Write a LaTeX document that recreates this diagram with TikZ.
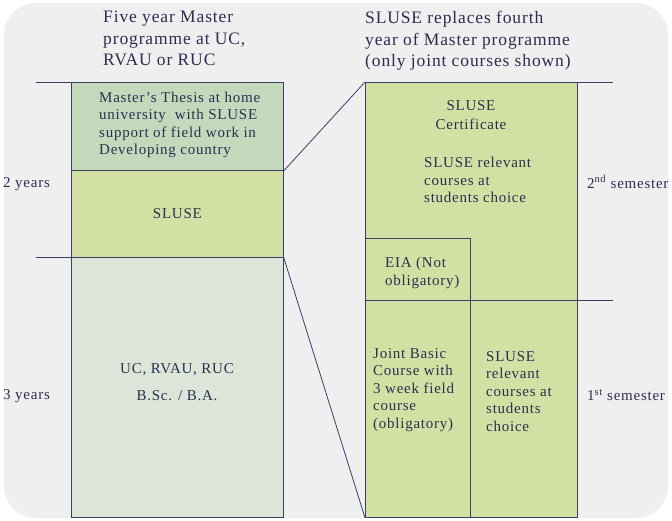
\documentclass[tikz,border=0pt]{standalone}
\usepackage{fontspec}
\setmainfont{Liberation Serif}[LetterSpace=5]
\definecolor{bgc}{HTML}{EFEFEF}
\definecolor{thesisc}{HTML}{C4D9BC}
\definecolor{slusec}{HTML}{D3E0A3}
\definecolor{bscc}{HTML}{DCE5D7}
\definecolor{ink}{HTML}{2A2F4F}
\definecolor{linec}{HTML}{3A3F66}
\begin{document}
\begin{tikzpicture}[x=1pt,y=-1pt,
  box/.style={draw=linec, line width=0.8pt, anchor=north west, inner sep=0pt},
  conn/.style={draw=linec, line width=0.8pt},
  txt/.style={text=ink, font=\fontsize{15}{17.6}\selectfont, inner sep=0pt},
  ttl/.style={text=ink, font=\fontsize{17.5}{21.5}\selectfont, inner sep=0pt, align=left, anchor=north west}]
\useasboundingbox (0,0) rectangle (672,520);
\fill[white] (0,0) rectangle (672,520);
\fill[bgc, rounded corners=32pt] (4,3) rectangle (668,518);

% titles
\node[ttl] (t1) at (103,11) {Five year Master\\programme at UC,\\RVAU or RUC};
\node[ttl] (t2) at (365,11) {SLUSE replaces fourth\\year of Master programme\\(only joint courses shown)};

% left column
\node[box, fill=thesisc, minimum width=212pt, minimum height=88pt] (thesis) at (71,82) {};
\node[box, fill=slusec, minimum width=212pt, minimum height=87pt] (sluse) at (71,170) {};
\node[box, fill=bscc, minimum width=212pt, minimum height=260pt] (bsc) at (71,257) {};

\node[txt, align=left, anchor=north west] (thesist) at (99,91.5) {Master’s Thesis at home\\university\ \ with SLUSE\\support of field work in\\Developing country};
\node[txt] (slusetxt) at (sluse.center) {SLUSE};
\node[txt, align=center] (bsct) at (177,382) {UC, RVAU, RUC\\[9.5pt]B.Sc. / B.A.};

% right column
\node[box, fill=slusec, minimum width=212pt, minimum height=218pt] (sem2) at (365,82) {};
\node[box, fill=slusec, minimum width=105pt, minimum height=62pt] (eia) at (365,238) {};
\node[box, fill=slusec, minimum width=105pt, minimum height=217pt] (joint) at (365,300) {};
\node[box, fill=slusec, minimum width=107pt, minimum height=217pt] (choice) at (470,300) {};

\node[txt, align=center, anchor=north] (cert) at (471,100) {SLUSE\\[1.5pt]Certificate};
\node[txt, align=left, anchor=north west] (rel2) at (424,157) {SLUSE relevant\\courses at\\students choice};
\node[txt, align=left, anchor=north west] (eiat) at (385,257) {EIA (Not\\obligatory)};
\node[txt, align=left, anchor=north west] (jointt) at (373,348) {Joint Basic\\Course with\\3 week field\\course\\(obligatory)};
\node[txt, align=left, anchor=north west] (choicet) at (486,351) {SLUSE\\relevant\\courses at\\students\\choice};

% side labels
\node[txt, anchor=west] (y2) at (3,184) {2 years};
\node[txt, anchor=west] (y3) at (3,396) {3 years};
\node[txt, anchor=west] (s2) at (587,182) {2\textsuperscript{nd} semester};
\node[txt, anchor=west] (s1) at (587,395) {1\textsuperscript{st} semester};

% tick lines
\coordinate (la) at (36,82);
\coordinate (lb) at (36,257);
\coordinate (ra) at (613,82);
\coordinate (rb) at (613,300);
\draw[conn] (thesis.north west) -- (la);
\draw[conn] (bsc.north west) -- (lb);
\draw[conn] (sem2.north east) -- (ra);
\draw[conn] (choice.north east) -- (rb);

% zoom lines
\draw[conn] (thesis.south east) -- (sem2.north west);
\draw[conn] (sluse.south east) -- (joint.south west);
\end{tikzpicture}
\end{document}
